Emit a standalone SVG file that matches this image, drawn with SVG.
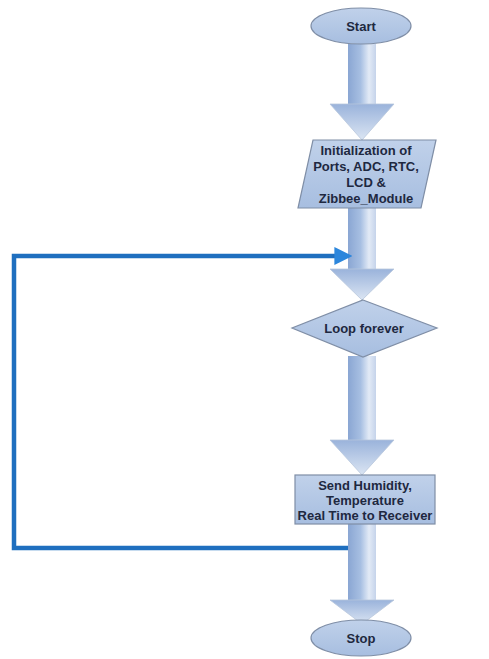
<svg xmlns="http://www.w3.org/2000/svg" width="489" height="659" viewBox="0 0 489 659">
<defs>
<linearGradient id="shape" x1="0" y1="0" x2="0" y2="1">
<stop offset="0" stop-color="#c0d1ea"/>
<stop offset="1" stop-color="#a7bee0"/>
</linearGradient>
<linearGradient id="shaft" x1="0" y1="0" x2="1" y2="0">
<stop offset="0" stop-color="#8aa6d3"/>
<stop offset="0.45" stop-color="#a7bfe2"/>
<stop offset="0.75" stop-color="#e2eaf6"/>
<stop offset="1" stop-color="#c5d3ea"/>
</linearGradient>
<linearGradient id="head" x1="0" y1="0" x2="0" y2="1">
<stop offset="0" stop-color="#9ab3db"/>
<stop offset="1" stop-color="#dbe5f3"/>
</linearGradient>
<marker id="bluehead" viewBox="0 0 10 10" refX="2" refY="5" markerWidth="4" markerHeight="4.4" orient="auto" markerUnits="strokeWidth">
<path d="M0,0 L10,5 L0,10 z" fill="#2c86dc"/>
</marker>
</defs>
<style>
.node{fill:url(#shape);stroke:#7f8ea6;stroke-width:1.2}
.shaft{fill:url(#shaft);stroke:none}
.head{fill:url(#head);stroke:#b8c6dc;stroke-width:0.8}
.t{font-family:"Liberation Sans",Arial,sans-serif;font-weight:bold;font-size:13px;fill:#1e2840;text-anchor:middle}
.loop{fill:none;stroke:#1f6fbf;stroke-width:4.5}
</style>
<rect width="489" height="659" fill="#ffffff"/>
<g id="connectors">
<g id="arrow1"><rect class="shaft" x="348" y="44" width="28" height="61"/><polygon class="head" points="330,104 394,104 362,140"/></g>
<g id="arrow2"><rect class="shaft" x="348" y="208" width="28" height="62"/><polygon class="head" points="330,269 394,269 362,300"/></g>
<g id="arrow3"><rect class="shaft" x="348" y="356" width="28" height="85"/><polygon class="head" points="330,440 394,440 362,475"/></g>
<g id="arrow4"><rect class="shaft" x="348" y="524" width="28" height="78"/><polygon class="head" points="330,600 394,600 362,624"/></g>
<path class="loop" d="M348,548 H14 V256 H338" marker-end="url(#bluehead)"/>
</g>
<g id="start"><ellipse class="node" cx="361" cy="26" rx="50" ry="18"/><text class="t" x="361" y="31">Start</text></g>
<g id="init"><polygon class="node" points="313,140 436,140 421,208 298,208"/>
<text class="t" x="366" y="155">Initialization of</text>
<text class="t" x="366" y="171">Ports, ADC, RTC,</text>
<text class="t" x="366" y="187">LCD  &amp;</text>
<text class="t" x="366" y="203">Zibbee_Module</text></g>
<g id="loop"><polygon class="node" points="363,300 437,328 363,357 292,328"/><text class="t" x="364" y="333">Loop forever</text></g>
<g id="send"><rect class="node" x="295" y="475" width="140" height="49"/>
<text class="t" x="365" y="490">Send Humidity,</text>
<text class="t" x="365" y="505">Temperature</text>
<text class="t" x="365" y="520">Real Time to Receiver</text></g>
<g id="stop"><ellipse class="node" cx="361" cy="638" rx="50" ry="18"/><text class="t" x="361" y="643">Stop</text></g>
</svg>
